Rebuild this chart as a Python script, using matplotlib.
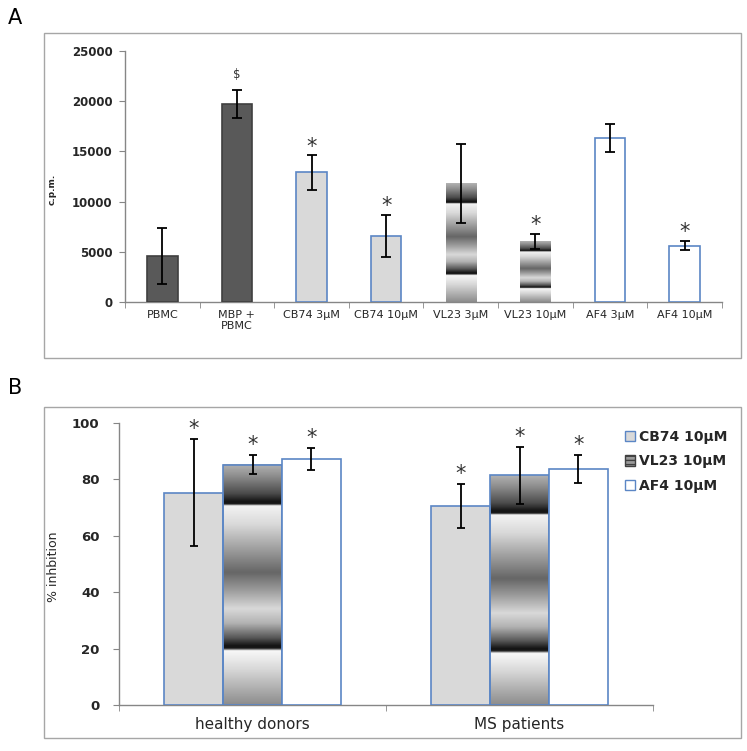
"""Two-panel bar chart: proliferation (c.p.m.) and % inhibition per compound."""

import matplotlib

matplotlib.use("Agg")

import matplotlib.pyplot as plt
import numpy as np
from matplotlib.patches import Patch, Rectangle


# panel A: proliferation, c.p.m.
a_labels = ["PBMC", "MBP +\nPBMC", "CB74 3µM", "CB74 10µM",
            "VL23 3µM", "VL23 10µM", "AF4 3µM", "AF4 10µM"]
a_values = [4600, 19700, 12900, 6600, 11800, 6000, 16300, 5600]
a_errors = [2800, 1400, 1700, 2100, 3900, 750, 1400, 450]
a_marks = ["", "$", "*", "*", "", "*", "", "*"]

# panel B: % inhibition
b_groups = ["healthy donors", "MS patients"]
b_series = ["CB74 10µM", "VL23 10µM", "AF4 10µM"]
b_cb74 = [75.3, 70.6]
b_cb74_err = [18.9, 7.8]
b_vl23 = [85.2, 81.4]
b_vl23_err = [3.4, 10.2]
b_af4 = [87.3, 83.6]
b_af4_err = [3.9, 5.0]

DARK = "#595959"
LIGHT = "#d9d9d9"
BLUE = "#5b86c5"
AXIS = "#868686"
TEXT = "#262626"

# excel-like "chrome" preset gradient, t measured from the top of the bar
GRAD_T = [0, .05, .12, .155, .165, .172, .25, .45, .52, .60, .66, .72,
          .755, .765, .775, .85, 1]
GRAD_V = [.70, .55, .30, .08, .10, .95, .85, .40, .60, .85, .70, .35,
          .08, .10, .97, .85, .55]


def chrome_fill(ax, rect):
    t = np.linspace(0, 1, 400)
    col = np.interp(t, GRAD_T, GRAD_V)[:, None]
    x0 = rect.get_x()
    ax.imshow(col, cmap="gray", vmin=0, vmax=1, aspect="auto",
              interpolation="bilinear", zorder=2,
              extent=[x0, x0 + rect.get_width(), rect.get_y(),
                      rect.get_y() + rect.get_height()])


def style_axes(ax):
    for side in ("top", "right"):
        ax.spines[side].set_visible(False)
    for side in ("left", "bottom"):
        ax.spines[side].set_color(AXIS)
        ax.spines[side].set_linewidth(1.0)


def star(ax, x, y, mark, dy=2.0):
    ax.annotate(mark, (x, y), xytext=(0, dy), textcoords="offset points",
                ha="center", va="baseline", fontsize=15, color="#333333",
                zorder=5)


fig = plt.figure(figsize=(7.47, 7.51), dpi=100)

# frames around the panels
for y0, y1 in ((33, 358), (407, 738)):
    fig.add_artist(Rectangle((44 / 747, 1 - y1 / 751), (741 - 44) / 747,
                             (y1 - y0) / 751, transform=fig.transFigure,
                             fill=False, edgecolor="#a6a6a6", linewidth=1.0))
fig.text(8 / 747, 1 - 18 / 751, "A", fontsize=15, va="center")
fig.text(8 / 747, 1 - 388 / 751, "B", fontsize=15, va="center")

# ---- panel A
ax_a = fig.add_axes([125 / 747, 1 - 302 / 751, 597 / 747, 251 / 751])
x = np.arange(len(a_labels))
faces = [DARK, DARK, LIGHT, LIGHT, "none", "none", "white", "white"]
edges = ["#3f3f3f", "#3f3f3f", BLUE, BLUE, "none", "none", BLUE, BLUE]
bars = ax_a.bar(x, a_values, width=0.41, color=faces, edgecolor=edges,
                linewidth=1.2, zorder=3)
for i, rect in enumerate(bars):
    if faces[i] == "none":
        chrome_fill(ax_a, rect)
ax_a.errorbar(x, a_values, yerr=a_errors, fmt="none", ecolor="black",
              elinewidth=1.3, capsize=3.5, capthick=1.3, zorder=4)
for xi, v, e, m in zip(x, a_values, a_errors, a_marks):
    if m == "*":
        star(ax_a, xi, v + e, m)
    elif m:
        ax_a.annotate(m, (xi, v + e), xytext=(0, 9), textcoords="offset points",
                      ha="center", va="baseline", fontsize=8.5, color="#333333")

ax_a.set_xlim(-0.5, len(a_labels) - 0.5)
ax_a.set_ylim(0, 25000)
ax_a.set_yticks(range(0, 25001, 5000))
ax_a.set_xticks(x)
ax_a.set_xticklabels(a_labels, fontsize=8, color=TEXT, linespacing=1.1)
ax_a.set_xticks(np.arange(-0.5, len(a_labels), 1), minor=True)
ax_a.tick_params(axis="x", which="major", length=0, pad=6)
ax_a.tick_params(axis="x", which="minor", length=4, color=AXIS)
ax_a.tick_params(axis="y", length=4, color=AXIS, labelsize=8.5,
                 labelcolor=TEXT, pad=5)
for lbl in ax_a.get_yticklabels():
    lbl.set_fontweight("bold")
ax_a.set_ylabel("c.p.m.", fontsize=6.5, fontweight="bold", color=TEXT)
ax_a.yaxis.set_label_coords(-0.114, 0.45)
style_axes(ax_a)

# ---- panel B
ax_b = fig.add_axes([119 / 747, 1 - 705 / 751, 534 / 747, 282 / 751])
gx = np.arange(len(b_groups)) + 0.5
w = 0.22
series = [(b_cb74, b_cb74_err, LIGHT), (b_vl23, b_vl23_err, "none"),
          (b_af4, b_af4_err, "white")]
for k, (vals, errs, face) in enumerate(series):
    pos = gx + (k - 1) * w
    rects = ax_b.bar(pos, vals, width=w, color=face, edgecolor=BLUE,
                     linewidth=1.2, zorder=3)
    if face == "none":
        for rect in rects:
            chrome_fill(ax_b, rect)
    ax_b.errorbar(pos, vals, yerr=errs, fmt="none", ecolor="black",
                  elinewidth=1.3, capsize=3, capthick=1.3, zorder=4)
    for p, v, e in zip(pos, vals, errs):
        star(ax_b, p, v + e, "*", dy=3.0)

ax_b.set_xlim(0, len(b_groups))
ax_b.set_ylim(0, 100)
ax_b.set_yticks(range(0, 101, 20))
ax_b.set_xticks(gx)
ax_b.set_xticklabels(b_groups, fontsize=11, color=TEXT)
ax_b.set_xticks(np.arange(0, len(b_groups) + 1), minor=True)
ax_b.tick_params(axis="x", which="major", length=0, pad=9)
ax_b.tick_params(axis="x", which="minor", length=4, color=AXIS)
ax_b.tick_params(axis="y", length=4, color=AXIS, labelsize=9.5,
                 labelcolor=TEXT, pad=10)
for lbl in ax_b.get_yticklabels():
    lbl.set_fontweight("bold")
ax_b.set_ylabel("% inhbition", fontsize=9, color=TEXT)
ax_b.yaxis.set_label_coords(-0.11, 0.49)
style_axes(ax_b)

handles = [Patch(facecolor=LIGHT, edgecolor=BLUE),
           Patch(facecolor="#9a9a9a", edgecolor="#404040", hatch="----"),
           Patch(facecolor="white", edgecolor=BLUE)]
fig.legend(handles, b_series, loc="upper left",
           bbox_to_anchor=(625 / 747, 1 - 430 / 751), frameon=False,
           fontsize=10, handlelength=0.75, handleheight=0.75,
           handletextpad=0.25, labelspacing=0.75, borderpad=0,
           borderaxespad=0, labelcolor=TEXT,
           prop={"weight": "bold", "size": 10})

fig.savefig("out.png", dpi=100)
